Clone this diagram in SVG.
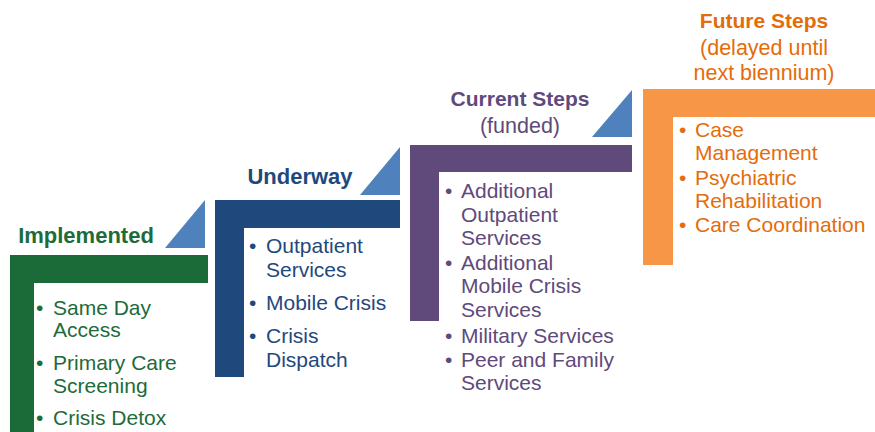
<svg xmlns="http://www.w3.org/2000/svg" width="875" height="432" viewBox="0 0 875 432">
<style>
text{font-family:"Liberation Sans",Arial,sans-serif}
.h{font-size:21px;font-weight:bold;text-anchor:middle}
.h2{font-size:22px}
.s{font-size:21.5px;text-anchor:middle}
.b{font-size:21px}
.tri{fill:#4F81BD}
.g{fill:#1B6B38}.gt{fill:#1E6B3A}
.bl{fill:#1F497D}.blt{fill:#1F497D}
.p{fill:#604A7B}.pt{fill:#604A7B}
.o{fill:#F79646}.ot{fill:#E46C0A}
</style>
<rect width="875" height="432" fill="#fff"/>
<g id="connectors">
<polygon class="tri" points="165,248 205,248 205,200"/>
<polygon class="tri" points="360,195 400,195 400,147"/>
<polygon class="tri" points="592,137 632,137 632,90"/>
</g>
<g id="implemented">
<path class="g" d="M10,255H208V283H34V432H10Z"/>
<text class="h h2 gt" x="86" y="243">Implemented</text>
<g class="b gt">
<text x="36" y="315">•</text><text x="53" y="315">Same Day</text>
<text x="53" y="337">Access</text>
<text x="36" y="370">•</text><text x="53" y="370">Primary Care</text>
<text x="53" y="393">Screening</text>
<text x="36" y="425">•</text><text x="53" y="425">Crisis Detox</text>
</g>
</g>
<g id="underway">
<path class="bl" d="M215,200H400V228H244V377H215Z"/>
<text class="h h2 blt" x="300" y="184">Underway</text>
<g class="b blt">
<text x="249" y="253">•</text><text x="266" y="253">Outpatient</text>
<text x="266" y="277">Services</text>
<text x="249" y="310">•</text><text x="266" y="310">Mobile Crisis</text>
<text x="249" y="343">•</text><text x="266" y="343">Crisis</text>
<text x="266" y="367">Dispatch</text>
</g>
</g>
<g id="current">
<path class="p" d="M410,145H632V172H439V321H410Z"/>
<text class="h pt" x="520" y="106">Current Steps</text>
<text class="s pt" x="520" y="133">(funded)</text>
<g class="b pt">
<text x="445" y="198">•</text><text x="461" y="198">Additional</text>
<text x="461" y="222">Outpatient</text>
<text x="461" y="245">Services</text>
<text x="445" y="270">•</text><text x="461" y="270">Additional</text>
<text x="461" y="293">Mobile Crisis</text>
<text x="461" y="317">Services</text>
<text x="445" y="343">•</text><text x="461" y="343">Military Services</text>
<text x="445" y="367">•</text><text x="461" y="367">Peer and Family</text>
<text x="461" y="390">Services</text>
</g>
</g>
<g id="future">
<path class="o" d="M643,89H875V117H673V265H643Z"/>
<text class="h ot" x="764" y="28">Future Steps</text>
<text class="s ot" x="764" y="55">(delayed until</text>
<text class="s ot" x="764" y="80">next biennium)</text>
<g class="b ot">
<text x="679" y="137">•</text><text x="695" y="137">Case</text>
<text x="695" y="160">Management</text>
<text x="679" y="185">•</text><text x="695" y="185">Psychiatric</text>
<text x="695" y="208">Rehabilitation</text>
<text x="679" y="232">•</text><text x="695" y="232">Care Coordination</text>
</g>
</g>
</svg>
